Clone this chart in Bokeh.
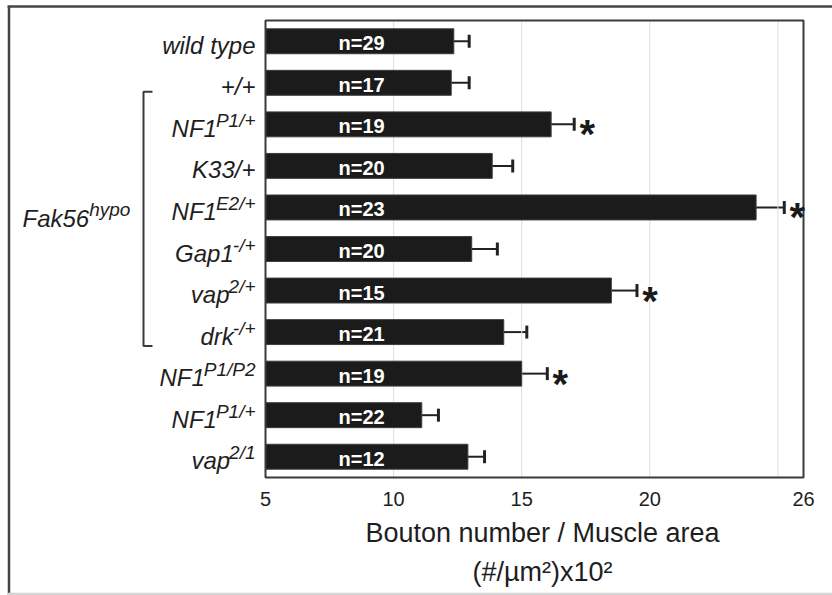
from bokeh.plotting import figure
from bokeh.models import ColumnDataSource, Range1d, FixedTicker, Whisker, TeeHead
from bokeh.core.properties import value
from bokeh.embed import file_html
from bokeh.resources import INLINE

# Genotypes (base name + superscript allele), top to bottom
genotype_base = ["wild type", "+/+", "NF1", "K33/+", "NF1", "Gap1", "vap", "drk",
                 "NF1", "NF1", "vap"]
genotype_sup = ["", "", "P1/+", "", "E2/+", "-/+", "2/+", "-/+", "P1/P2", "P1/+", "2/1"]
bouton_mean = [12.35, 12.25, 16.15, 13.85, 24.15, 13.05, 18.5, 14.3, 15.0, 11.1, 12.9]
bouton_sem = [0.6, 0.7, 0.9, 0.8, 1.1, 1.0, 1.0, 0.9, 1.0, 0.65, 0.65]
n_larvae = [29, 17, 19, 20, 23, 20, 15, 21, 19, 22, 12]
significant = [False, False, True, False, True, False, True, False, True, False, False]
x_tick_values = [5, 10, 15, 20, 26]
grid_values = [10, 15, 20, 25]
group_name, group_sup = "Fak56", "hypo"
group_rows = (1, 7)
x_title = "Bouton number / Muscle area\n(#/µm²)x10²"

FONT = "Liberation Sans"
W, H = 832, 595
# pixel box of the bar panel inside the page
FRAME_L, FRAME_R, FRAME_T, FRAME_B = 265, 803, 20, 477
X0, X1 = 5, 26
n = len(genotype_base)

px_per_x = (FRAME_R - FRAME_L) / (X1 - X0)
px_per_row = (FRAME_B - FRAME_T) / n


def data_x(px):
    return X0 + (px - FRAME_L) / px_per_x


def data_y(py):
    return -0.5 + (py - FRAME_T) / px_per_row


# Arial / Liberation Sans advance widths (1/1000 em)
ADV = {"P": 667, "E": 667, "F": 611, "1": 556, "2": 556, "5": 556, "6": 556,
       "/": 278, "+": 584, "-": 333, "a": 556, "k": 500, "h": 556, "y": 500,
       "p": 556, "o": 556}


def text_px(s, size):
    return sum(ADV.get(c, 556) for c in s) * size / 1000.0


rows = list(range(n))
src = ColumnDataSource(dict(
    y=rows,
    mean=bouton_mean,
    top=[m + e for m, e in zip(bouton_mean, bouton_sem)],
    n_text=[f"n={k}" for k in n_larvae],
))
sig = [i for i in rows if significant[i]]
star_src = ColumnDataSource(dict(
    y=sig,
    top=[bouton_mean[i] + bouton_sem[i] for i in sig],
    star=["*"] * len(sig),
))

# the figure's frame covers the whole page; the bar panel is drawn inside it
p = figure(width=W, height=H,
           x_range=Range1d(data_x(0), data_x(W)), y_range=Range1d(data_y(H), data_y(0)),
           output_backend="svg", toolbar_location=None,
           min_border_left=0, min_border_right=0, min_border_top=0, min_border_bottom=0,
           background_fill_color="white", border_fill_color="white")
p.outline_line_color = None
p.grid.visible = False
p.yaxis.visible = False

# vertical grid lines inside the panel
p.segment(x0=grid_values, x1=grid_values, y0=-0.5, y1=n - 0.5,
          line_color="#dedede", line_width=1)

ax = p.xaxis[0]
ax.fixed_location = n - 0.5
ax.bounds = (X0, data_x(819))  # title centred a little right of the panel middle
ax.ticker = FixedTicker(ticks=x_tick_values)
ax.axis_line_color = None
ax.major_tick_line_color = None
ax.minor_tick_line_color = None
ax.major_tick_out = 0
ax.major_tick_in = 0
ax.major_label_standoff = 14
ax.major_label_text_font = FONT
ax.major_label_text_font_size = "20px"
ax.major_label_text_color = "#1e1e1e"
ax.axis_label = x_title
ax.axis_label_text_font = FONT
ax.axis_label_text_font_size = "27px"
ax.axis_label_text_font_style = "normal"
ax.axis_label_text_color = "#1e1e1e"
ax.axis_label_text_line_height = 1.3
ax.axis_label_standoff = 9

# bars
p.hbar(y="y", left=X0, right="mean", height=0.6, source=src,
       fill_color="#1b1b1b", line_color="#3c3c3c", line_width=1)

# panel outline
p.quad(left=X0, right=X1, top=-0.5, bottom=n - 0.5, fill_color=None,
       line_color="#3a3a3a", line_width=2)

# upper error whiskers
p.add_layout(Whisker(source=src, base="y", lower="mean", upper="top", dimension="width",
                     line_color="#222222", line_width=2, lower_head=None,
                     upper_head=TeeHead(size=13, line_width=3, line_color="#222222")))

# sample sizes inside the bars
p.text(x=8.75, y="y", text="n_text", source=src, text_align="center",
       text_baseline="middle", y_offset=2, text_color="white", text_font=value(FONT),
       text_font_size="20px", text_font_style="bold")

# significance stars
p.text(x="top", y="y", text="star", source=star_src, x_offset=13, y_offset=10,
       text_align="center", text_baseline="alphabetic", text_color="#1a1a1a",
       text_font=value(FONT), text_font_size="40px", text_font_style="bold")

# genotype labels with superscript alleles
BASE_SIZE, SUP_SIZE = 24, 19
LABEL_GAP, BASE_DROP, SUP_RISE = 10, 4, 8
label_src = ColumnDataSource(dict(
    y=rows,
    base=genotype_base,
    sup=genotype_sup,
    base_off=[-LABEL_GAP - (text_px(s, SUP_SIZE) - 1 if s else 0) for s in genotype_sup],
))
p.text(x=X0, y="y", text="base", source=label_src, x_offset="base_off", y_offset=BASE_DROP,
       text_align="right", text_baseline="alphabetic", text_font=value(FONT),
       text_font_size=f"{BASE_SIZE}px", text_font_style="italic", text_color="#1e1e1e")
p.text(x=X0, y="y", text="sup", source=label_src, x_offset=-LABEL_GAP,
       y_offset=BASE_DROP - SUP_RISE, text_align="right", text_baseline="alphabetic",
       text_font=value(FONT), text_font_size=f"{SUP_SIZE}px", text_font_style="italic",
       text_color="#1e1e1e")

# group bracket and its label
top_py = FRAME_T + (group_rows[0] + 0.5) * px_per_row + 9
bot_py = FRAME_T + (group_rows[1] + 0.5) * px_per_row + 14
BR_X, BR_TICK = 143, 9
p.line(x=[data_x(BR_X + BR_TICK), data_x(BR_X), data_x(BR_X), data_x(BR_X + BR_TICK)],
       y=[data_y(top_py), data_y(top_py), data_y(bot_py), data_y(bot_py)],
       line_color="#3a3a3a", line_width=2)

mid_py = (top_py + bot_py) / 2
p.text(x=data_x(22), y=data_y(mid_py), text=[group_name], text_align="left",
       text_baseline="alphabetic", text_font=value(FONT), text_font_size="24px",
       text_font_style="italic", text_color="#1e1e1e")
p.text(x=data_x(22), y=data_y(mid_py), text=[group_sup], x_offset=text_px(group_name, 24),
       y_offset=-9, text_align="left", text_baseline="alphabetic", text_font=value(FONT),
       text_font_size="19px", text_font_style="italic", text_color="#1e1e1e")

# page border lines
p.segment(x0=[data_x(7), data_x(8.5)], x1=[data_x(W), data_x(8.5)],
          y0=[data_y(6), data_y(6)], y1=[data_y(6), data_y(H)],
          line_color="#444444", line_width=2.5)
p.segment(x0=data_x(7), x1=data_x(W), y0=data_y(593.5), y1=data_y(593.5),
          line_color="#d4d4d4", line_width=2.5)

open("out.html", "w").write(file_html(p, INLINE))
